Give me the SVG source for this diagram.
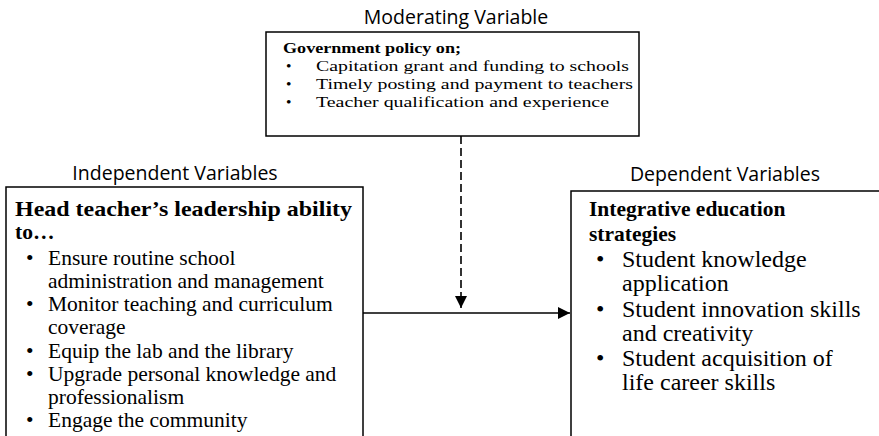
<svg xmlns="http://www.w3.org/2000/svg" width="879" height="436" viewBox="0 0 879 436">
<defs>
<style>
.box{fill:#fff;stroke:#000;stroke-width:1.5}
.lbl{font-family:"Open Sans","Liberation Sans",sans-serif;font-size:19.5px;fill:#000}
.b{font-family:"Liberation Serif","Times New Roman",serif;font-weight:bold;fill:#000}
.t{font-family:"Liberation Serif","Times New Roman",serif;fill:#000}
.con{stroke:#000;stroke-width:1.6;fill:none}
</style>
<marker id="ah" viewBox="0 0 10 10" refX="10" refY="5" markerWidth="12" markerHeight="12" markerUnits="userSpaceOnUse" orient="auto">
<path d="M0,0 L10,5 L0,10 Z" fill="#000"/>
</marker>
</defs>
<rect width="879" height="436" fill="#fff"/>
<text class="lbl" x="456" y="24" text-anchor="middle">Moderating Variable</text>
<text class="lbl" x="175" y="180" text-anchor="middle">Independent Variables</text>
<text class="lbl" x="725" y="181" text-anchor="middle">Dependent Variables</text>
<g id="moderating">
<rect class="box" x="266" y="32" width="373" height="104"/>
<g class="b" font-size="15.5"><text x="283" y="53" textLength="178" lengthAdjust="spacingAndGlyphs">Government policy on;</text></g>
<g class="t" font-size="15.5">
<text x="286" y="71">•</text><text x="316" y="71" textLength="313" lengthAdjust="spacingAndGlyphs">Capitation grant and funding to schools</text>
<text x="286" y="89">•</text><text x="316" y="89" textLength="317" lengthAdjust="spacingAndGlyphs">Timely posting and payment to teachers</text>
<text x="286" y="107">•</text><text x="316" y="107" textLength="293" lengthAdjust="spacingAndGlyphs">Teacher qualification and experience</text>
</g>
</g>
<g id="independent">
<rect class="box" x="6" y="187" width="357" height="270"/>
<g class="b" font-size="21.5">
<text x="15" y="216" textLength="337" lengthAdjust="spacingAndGlyphs">Head teacher’s leadership ability</text>
<text x="15" y="239">to…</text>
</g>
<g class="t" font-size="21.5">
<text x="26" y="265">•</text><text x="48" y="265">Ensure routine school</text>
<text x="48" y="288">administration and management</text>
<text x="26" y="311">•</text><text x="48" y="311">Monitor teaching and curriculum</text>
<text x="48" y="334">coverage</text>
<text x="26" y="358">•</text><text x="48" y="358">Equip the lab and the library</text>
<text x="26" y="381">•</text><text x="48" y="381">Upgrade personal knowledge and</text>
<text x="48" y="404">professionalism</text>
<text x="26" y="427">•</text><text x="48" y="427">Engage the community</text>
</g>
</g>
<g id="dependent">
<rect class="box" x="571" y="191" width="330" height="270"/>
<g class="b" font-size="21.5">
<text x="589" y="216">Integrative education</text>
<text x="589" y="241">strategies</text>
</g>
<g class="t" font-size="24">
<text x="596" y="267">•</text><text x="622" y="267">Student knowledge</text>
<text x="622" y="291">application</text>
<text x="596" y="317">•</text><text x="622" y="317">Student innovation skills</text>
<text x="622" y="341">and creativity</text>
<text x="596" y="366">•</text><text x="622" y="366">Student acquisition of</text>
<text x="622" y="390">life career skills</text>
</g>
</g>
<g id="connectors">
<line class="con" x1="461" y1="136" x2="461" y2="308" stroke-dasharray="8,4" marker-end="url(#ah)"/>
<line class="con" x1="363" y1="313" x2="570" y2="313" marker-end="url(#ah)"/>
</g>
</svg>
